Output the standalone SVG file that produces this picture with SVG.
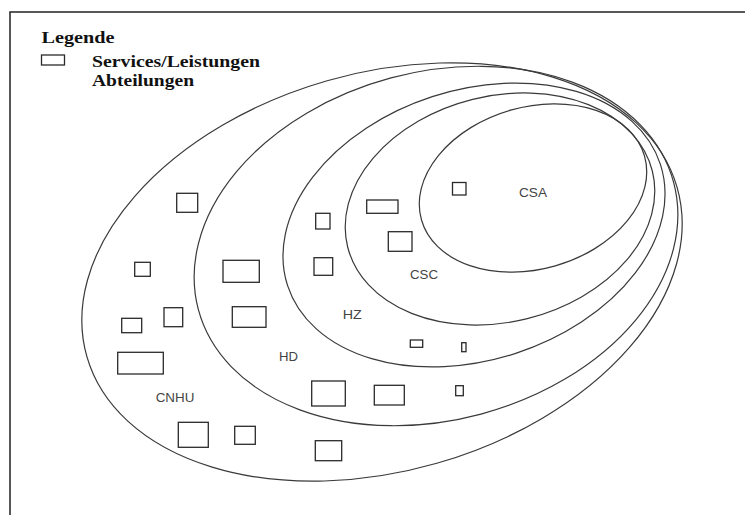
<svg xmlns="http://www.w3.org/2000/svg" width="745" height="515" viewBox="0 0 745 515">
  <style>
    .frame { fill: none; stroke: #222; stroke-width: 1.5; }
    .zone { fill: none; stroke: #3a3a3a; stroke-width: 1.2; }
    .svc { fill: #fff; stroke: #2a2a2a; stroke-width: 1.3; }
    .legend { font-family: "Liberation Serif", "Times New Roman", serif; font-weight: bold; font-size: 17px; fill: #111; }
    .lbl { font-family: "Liberation Sans", Arial, sans-serif; font-size: 12.5px; fill: #444; }
  </style>
  <rect width="745" height="515" fill="#fff"/>

  <!-- outer frame (top and left edges only) -->
  <path class="frame" d="M10,515 V12 H745"/>

  <!-- legend -->
  <g id="legend">
    <text class="legend" x="41.5" y="43" textLength="73" lengthAdjust="spacingAndGlyphs">Legende</text>
    <rect class="svc" x="41.5" y="55" width="23" height="10"/>
    <text class="legend" x="92" y="67" textLength="168" lengthAdjust="spacingAndGlyphs">Services/Leistungen</text>
    <text class="legend" x="92" y="85.5" textLength="102" lengthAdjust="spacingAndGlyphs">Abteilungen</text>
  </g>

  <!-- nested organisational zones -->
  <g id="zone-cnhu">
    <ellipse class="zone" cx="382" cy="272" rx="307" ry="199" transform="rotate(-16 382 272)"/>
    <text class="lbl" x="155.7" y="401.7" textLength="38.6" lengthAdjust="spacingAndGlyphs">CNHU</text>
  </g>
  <g id="zone-hd">
    <ellipse class="zone" cx="436" cy="246" rx="246" ry="174" transform="rotate(-15 436 246)"/>
    <text class="lbl" x="279" y="360.7" textLength="19" lengthAdjust="spacingAndGlyphs">HD</text>
  </g>
  <g id="zone-hz">
    <ellipse class="zone" cx="474" cy="225" rx="196" ry="135" transform="rotate(-18 474 225)"/>
    <text class="lbl" x="342.7" y="319" textLength="19" lengthAdjust="spacingAndGlyphs">HZ</text>
  </g>
  <g id="zone-csc">
    <ellipse class="zone" cx="500" cy="209" rx="157" ry="113" transform="rotate(-14 500 209)"/>
    <text class="lbl" x="410" y="279" textLength="28" lengthAdjust="spacingAndGlyphs">CSC</text>
  </g>
  <g id="zone-csa">
    <ellipse class="zone" cx="533" cy="188" rx="116" ry="81" transform="rotate(-16 533 188)"/>
    <text class="lbl" x="519" y="197" textLength="28" lengthAdjust="spacingAndGlyphs">CSA</text>
  </g>

  <!-- services -->
  <g id="services">
    <rect class="svc" x="176.7" y="193.3" width="21" height="19"/>
    <rect class="svc" x="134.7" y="262.3" width="15.6" height="14"/>
    <rect class="svc" x="164" y="307.7" width="18.7" height="19"/>
    <rect class="svc" x="121.7" y="318.3" width="20" height="14.4"/>
    <rect class="svc" x="117.7" y="352.3" width="45.6" height="21.7"/>
    <rect class="svc" x="178.3" y="422.3" width="30" height="25"/>
    <rect class="svc" x="234.7" y="426.3" width="20.6" height="18"/>
    <rect class="svc" x="223" y="260.3" width="36.3" height="22"/>
    <rect class="svc" x="232.3" y="306.7" width="33.7" height="20.6"/>
    <rect class="svc" x="315.7" y="213.3" width="14.3" height="15.7"/>
    <rect class="svc" x="314" y="257.7" width="18.7" height="17.6"/>
    <rect class="svc" x="366.7" y="200" width="31.3" height="13.3"/>
    <rect class="svc" x="388.3" y="231.7" width="23.7" height="19.6"/>
    <rect class="svc" x="452.5" y="182.5" width="13.5" height="12.5"/>
    <rect class="svc" x="410.3" y="340" width="12.4" height="7.3"/>
    <rect class="svc" x="461.7" y="342.7" width="4.3" height="9"/>
    <rect class="svc" x="311.7" y="381" width="33.6" height="25"/>
    <rect class="svc" x="374.3" y="385.3" width="30" height="19.7"/>
    <rect class="svc" x="455.7" y="385.7" width="7.6" height="10"/>
    <rect class="svc" x="315.3" y="440.7" width="26.4" height="20"/>
  </g>
</svg>
